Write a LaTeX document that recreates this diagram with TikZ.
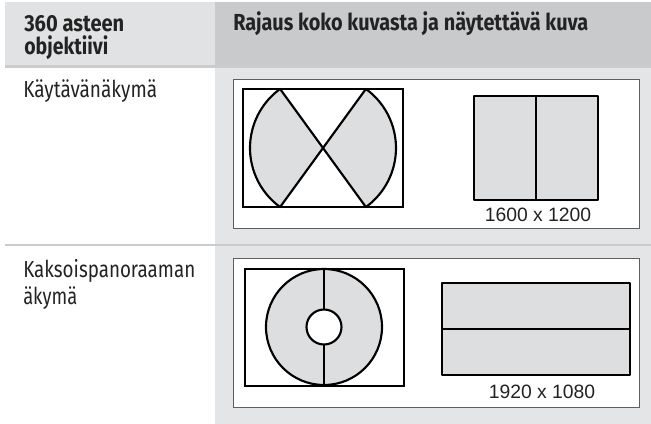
\documentclass[tikz,border=0pt]{standalone}
\usepackage{fontspec}
\usepackage{graphicx}
\newfontfamily\tabfont{Fira Sans}
\newfontfamily\numfont{Liberation Sans}
\definecolor{headlight}{RGB}{225,226,228}
\definecolor{headdark}{RGB}{201,202,204}
\definecolor{cellgray}{RGB}{228,229,231}
\definecolor{rulegray}{RGB}{204,204,206}
\definecolor{shadegray}{RGB}{221,222,224}
\definecolor{boxline}{RGB}{95,95,95}
\definecolor{bodytext}{RGB}{35,35,35}
% squeeze a line of text to a given width, keeping its height
\newcommand{\fitw}[2]{\resizebox{#1}{\height}{#2}}

\begin{document}
\begin{tikzpicture}[x=0.75pt,y=-0.75pt,
  % --- table style: edit visual look here -----------------------------
  headtext/.style={anchor=base west, inner sep=0pt, text=bodytext, align=left,
                   font=\tabfont\bfseries\fontsize{17.4}{17.25}\selectfont},
  rowtext/.style={anchor=base west, inner sep=0pt, text=bodytext, align=left,
                  font=\tabfont\fontsize{17.4}{20.25}\selectfont},
  restext/.style={anchor=base, inner sep=0pt, text=bodytext,
                  font=\numfont\fontsize{14.5}{16}\selectfont},
  imgbox/.style={draw=boxline, fill=white, line width=0.75pt},
  frame/.style={draw=black, line width=1.6pt},
  part/.style={draw=black, fill=shadegray, line width=1.6pt, line join=round},
  % ---------------------------------------------------------------------
]
  \useasboundingbox (0,0) rectangle (651,424);

  % Table cells
  \fill[headlight] (5,2) rectangle (215,65);
  \fill[headdark] (215,2) rectangle (651,65);
  \fill[rulegray] (5,65) rectangle (651,68);
  \fill[cellgray] (215,68) rectangle (651,244);
  \fill[rulegray] (5,244) rectangle (651,246);
  \fill[cellgray] (215,246) rectangle (651,424);

  % Header (multi-line nodes sit on their last baseline)
  \node[headtext] (lens) at (24,55) {\fitw{75pt}{360 asteen}\\\fitw{63pt}{objektiivi}};
  \node[headtext] (crop) at (233,31) {\fitw{266.25pt}{Rajaus koko kuvasta ja näytettävä kuva}};

  % Row labels
  \node[rowtext] (corridor) at (23,98) {\fitw{100.5pt}{Käytävänäkymä}};
  \node[rowtext] (panorama) at (23,305) {\fitw{129pt}{Kaksoispanoraaman}\\\fitw{40.5pt}{äkymä}};

  % Row 1 — corridor view
  \draw[imgbox] (233,80) rectangle (639,229);
  \draw[frame] (243,89) rectangle (403,207);
  \coordinate (fish1) at (323,148);
  \filldraw[part] (fish1) -- ++(126:73) arc[start angle=126, end angle=234, radius=73] -- cycle;
  \filldraw[part] (fish1) -- ++(-54:73) arc[start angle=-54, end angle=54, radius=73] -- cycle;
  \filldraw[part] (474,96) rectangle (598,200);
  \draw[frame] (536,96) -- (536,200);
  \node[restext] (res1) at (538,222) {1600 x 1200};

  % Row 2 — double panorama view
  \draw[imgbox] (233,259) rectangle (639,408);
  \draw[frame] (245,269) rectangle (404,386);
  \coordinate (fish2) at (324,327);
  \filldraw[part, even odd rule] (fish2) circle[radius=58] (fish2) circle[radius=17.5];
  \draw[frame] (324,269) -- (324,309.5) (324,344.5) -- (324,385);
  \filldraw[part] (442,283) rectangle (630,375);
  \draw[frame] (442,329) -- (630,329);
  \node[restext] (res2) at (542,399) {1920 x 1080};
\end{tikzpicture}
\end{document}
